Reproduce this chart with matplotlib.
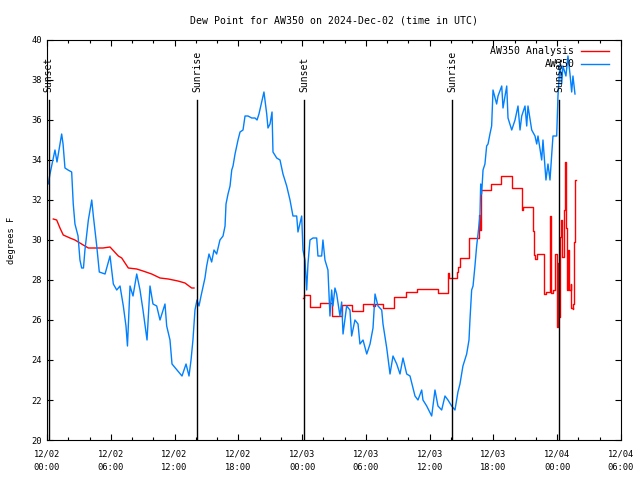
import matplotlib
matplotlib.use("Agg")
import matplotlib.pyplot as plt
from matplotlib.ticker import MultipleLocator

# hours since 2024-12-02 00:00 UTC
obs_hours = [0.0, 0.12, 0.28, 0.56, 0.75, 0.94, 1.13, 1.38, 1.51, 1.69, 1.98, 2.32, 2.47, 2.63,
             2.92, 3.10, 3.26, 3.43, 3.57, 3.89, 4.21, 4.36, 4.68, 4.92, 5.46, 5.93, 6.24, 6.56,
             6.87, 7.18, 7.43, 7.57, 7.81, 8.09, 8.44, 8.75, 9.03, 9.41, 9.69, 9.97, 10.32, 10.63,
             11.10, 11.26, 11.57, 11.76, 12.23, 12.70, 13.08, 13.36, 13.55, 13.73, 13.92, 14.11,
             14.30, 14.49, 14.86, 15.02, 15.24, 15.49, 15.71, 15.96, 16.27, 16.56, 16.75, 16.84,
             17.03, 17.22, 17.38, 17.50, 17.69, 17.85, 17.97, 18.16, 18.44, 18.63, 18.91, 19.26,
             19.57, 19.76, 19.94, 20.20, 20.41, 20.67, 20.79, 20.98, 21.17, 21.26, 21.61, 21.92,
             22.20, 22.55, 22.86, 23.14, 23.49, 23.61, 23.96, 24.08, 24.27, 24.43, 24.55, 24.74,
             25.02, 25.37, 25.49, 25.84, 25.96, 26.15, 26.43, 26.62, 26.78, 26.90, 27.09, 27.25,
             27.56, 27.72, 27.85, 28.19, 28.50, 28.66, 28.97, 29.26, 29.44, 29.73, 30.08, 30.39,
             30.67, 30.86, 31.14, 31.49, 31.61, 31.96, 32.27, 32.55, 32.90, 33.21, 33.49, 33.84,
             34.15, 34.43, 34.62, 34.90, 35.25, 35.37, 35.72, 36.19, 36.50, 36.78, 37.13, 37.44,
             37.72, 38.07, 38.38, 38.66, 38.85, 39.13, 39.48, 39.70, 39.79, 39.95, 40.08, 40.26,
             40.42, 40.55, 40.73, 40.80, 40.89, 41.02, 41.20, 41.36, 41.49, 41.67, 41.83, 41.96,
             42.30, 42.43, 42.78, 42.90, 43.25, 43.37, 43.72, 44.03, 44.31, 44.50, 44.66, 44.97,
             45.13, 45.25, 45.60, 45.91, 46.07, 46.19, 46.54, 46.66, 46.94, 47.13, 47.32, 47.60,
             47.95, 48.07, 48.26, 48.42, 48.54, 48.82, 49.01, 49.20, 49.36, 49.48, 49.67]
obs_dewpt = [32.8, 32.8, 33.3, 34.0, 34.5, 33.9, 34.5, 35.3, 34.8, 33.6, 33.5, 33.4, 31.8, 30.8,
             30.2, 29.0, 28.6, 28.6, 29.5, 31.0, 32.0, 31.2, 29.7, 28.4, 28.3, 29.2, 27.8, 27.5,
             27.7, 26.7, 25.7, 24.7, 27.7, 27.2, 28.3, 27.5, 26.5, 25.0, 27.7, 26.8, 26.7, 26.0,
             26.8, 25.7, 25.0, 23.8, 23.5, 23.2, 23.8, 23.2, 24.0, 25.0, 26.5, 27.0,
             26.7, 27.2, 28.1, 28.7, 29.3, 28.9, 29.5, 29.3, 30.0, 30.2, 30.7, 31.8,
             32.3, 32.7, 33.5, 33.7, 34.3, 34.7, 35.0, 35.4, 35.5, 36.2, 36.2, 36.1,
             36.1, 36.0, 36.3, 36.9, 37.4, 36.3, 35.6, 35.8, 36.4, 34.4, 34.1, 34.0,
             33.3, 32.7, 32.0, 31.2, 31.2, 30.4, 31.2, 29.5, 29.0, 27.5, 28.8, 30.0,
             30.1, 30.1, 29.2, 29.2, 30.0, 29.0, 28.5, 26.2, 27.5, 26.7, 27.6, 27.3,
             26.2, 26.9, 25.3, 26.7, 26.5, 25.2, 26.0, 25.8, 24.8, 25.0, 24.3, 24.8,
             25.6, 27.3, 26.7, 26.5, 25.8, 24.6, 23.3, 24.2, 23.8, 23.3, 24.1, 23.3,
             23.2, 22.6, 22.2, 22.0, 22.5, 22.0, 21.7, 21.2, 22.5, 21.7, 21.5, 22.2,
             22.0, 21.7, 21.5, 22.4, 22.8, 23.7, 24.3, 25.0, 26.0, 27.5, 27.7, 28.7,
             29.7, 30.3, 31.2, 32.8, 32.3, 33.5, 33.8, 34.7, 34.8, 35.3, 35.7, 37.5,
             36.8, 37.2, 37.7, 36.6, 37.7, 36.1, 35.5, 36.0, 36.7, 35.5, 36.2, 36.7,
             35.7, 36.7, 35.5, 35.2, 34.8, 35.2, 34.0, 35.0, 33.0, 33.8, 33.0, 35.2,
             35.2, 37.2, 38.8, 37.8, 38.7, 38.2, 39.2, 38.3, 37.4, 38.2, 37.3]

# analysis, first day (smooth part)
ana1_hours = [0.59, 0.91, 1.22, 1.53, 2.16, 2.63, 2.94, 3.41, 3.89, 4.52, 5.27, 5.93, 6.71, 7.03,
              7.65, 8.44, 9.03, 9.85, 10.63, 11.41, 12.32, 12.98, 13.61, 13.83]
ana1_dewpt = [31.05, 31.0, 30.6, 30.25, 30.1, 30.0, 29.9, 29.75, 29.6, 29.6, 29.6, 29.65, 29.2, 29.1,
              28.6, 28.55, 28.45, 28.3, 28.1, 28.05, 27.95, 27.85, 27.6, 27.6]

# analysis, second part (stepped)
ana2_hours = [24.05, 24.18, 24.74, 25.68, 26.78, 27.72, 28.66, 29.70, 30.67, 30.86, 31.64, 32.64,
              33.77, 34.78, 36.75, 37.75, 37.85, 38.54, 38.69, 38.85, 39.73, 40.67, 40.73, 40.80,
              41.74, 42.71, 43.74, 44.71, 44.81, 45.75, 45.81, 45.91, 46.07, 46.78, 46.94, 47.32,
              47.38, 47.63, 47.79, 47.95, 48.01, 48.10, 48.17, 48.26, 48.35, 48.45, 48.66, 48.76,
              48.82, 48.89, 48.98, 49.08, 49.13, 49.25, 49.32, 49.45, 49.53, 49.58, 49.67, 49.75]
ana2_dewpt = [27.1, 27.25, 26.65, 26.85, 26.2, 26.75, 26.45, 26.8, 26.7, 26.8, 26.6, 27.15,
              27.4, 27.55, 27.35, 28.35, 28.1, 28.4, 28.65, 29.1, 30.1, 31.25, 30.5, 32.5,
              32.8, 33.2, 32.6, 31.5, 31.65, 30.45, 29.25, 29.05, 29.3, 27.3, 27.4, 31.2,
              27.35, 27.5, 29.3, 27.65, 25.65, 28.85, 26.15, 30.15, 31.0, 29.15, 31.5, 33.9,
              30.6, 27.5, 29.5, 28.5, 27.5, 27.8, 26.6, 26.55, 26.8, 29.9, 33.0, 33.0]

sun_events = ["Sunset", "Sunrise", "Sunset", "Sunrise", "Sunset"]
sun_hours = [0.15, 14.11, 24.18, 38.1, 48.17]

xtick_hours = [0, 6, 12, 18, 24, 30, 36, 42, 48, 54]
xtick_labels = ["12/02\n00:00", "12/02\n06:00", "12/02\n12:00", "12/02\n18:00", "12/03\n00:00",
                "12/03\n06:00", "12/03\n12:00", "12/03\n18:00", "12/04\n00:00", "12/04\n06:00"]

plt.rcParams['font.family'] = ['DejaVu Sans Mono']
plt.rcParams['font.size'] = 6.3

fig = plt.figure(figsize=(6.4, 4.8), dpi=100)
ax = fig.add_axes([47 / 640, 40 / 480, 574 / 640, 400 / 480])

ax.plot(ana1_hours, ana1_dewpt, color='#ff0000', lw=1.0, label='AW350 Analysis')
ax.plot(ana2_hours, ana2_dewpt, color='#ff0000', lw=1.0, drawstyle='steps-post')
ax.plot(obs_hours, obs_dewpt, color='#0080ff', lw=1.0, label='AW350')

# sunrise / sunset markers
for name, h in zip(sun_events, sun_hours):
    ax.plot([h, h], [20, 37.0], color='black', lw=1.0)
    ax.text(h, 37.4, name, rotation=90, ha='center', va='bottom', fontsize=7)

ax.set_xlim(0, 54)
ax.set_ylim(20, 40)
ax.set_xticks(xtick_hours)
ax.set_xticklabels(xtick_labels, linespacing=1.6)
ax.xaxis.set_minor_locator(MultipleLocator(2))
ax.yaxis.set_major_locator(MultipleLocator(2))
ax.tick_params(which='both', direction='in', top=True, right=True, length=4, width=0.8)
ax.tick_params(which='minor', length=2)
ax.tick_params(axis='x', pad=7)

ax.set_title('Dew Point for AW350 on 2024-Dec-02 (time in UTC)', fontsize=7.1, pad=12)
ax.set_ylabel('degrees F', labelpad=11)

ax.legend(loc='upper right', bbox_to_anchor=(0.99, 1.0), frameon=False, markerfirst=False,
          handlelength=2.8, borderaxespad=0.25, labelspacing=0.3, handletextpad=0.7,
          fontsize=7.1)

fig.savefig('out.png', dpi=100)
